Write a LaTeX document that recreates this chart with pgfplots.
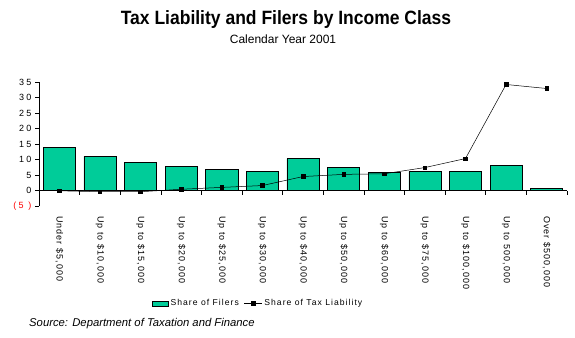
\documentclass[border=0pt]{standalone}
\usepackage{pgfplots}
\pgfplotsset{compat=1.18}
\usepackage{fontspec}
\setmainfont{Liberation Sans}
\newfontfamily\lsfont[LetterSpace=12]{Liberation Sans}
\newfontfamily\ysfont[LetterSpace=25]{Liberation Sans}
\definecolor{filers}{RGB}{0,204,153}
\pgfplotsset{
  barlegend/.style={legend image code/.code={\draw[##1] (0pt,-2.5pt) rectangle (16pt,2.5pt);}},
  linelegend/.style={legend image code/.code={\draw[##1] (0pt,0pt) -- (18pt,0pt); \path[##1] plot coordinates {(9pt,0pt)};}},
}
\pgfplotstableread{
x filers tax
0 13.9 -0.1
1 11.0 -0.4
2 9.0 -0.4
3 7.7 0.4
4 6.8 1.0
5 6.1 1.6
6 10.3 4.5
7 7.4 5.2
8 5.8 5.4
9 6.2 7.4
10 6.2 10.3
11 8.1 34.2
12 0.75 32.9
}\datatable
\begin{document}
\begin{tikzpicture}
\path[use as bounding box] (0,0) rectangle (575pt,337pt);
\node[anchor=base] at (286pt,312pt) {\fontsize{17.5}{20}\selectfont\bfseries\scalebox{1}[1.1]{Tax Liability and Filers by Income Class}};
\node[anchor=base] at (283pt,293.5pt) {\fontsize{12}{14}\selectfont Calendar Year 2001};
\node[anchor=base west, inner sep=0pt] at (29pt,10.3pt) {\fontsize{11.3}{13}\selectfont\itshape Source: Department of Taxation and Finance};
\begin{axis}[
  at={(39pt,131pt)}, anchor=south west,
  scale only axis, width=528pt, height=124pt,
  xmin=-0.5, xmax=12.5, ymin=-5, ymax=35,
  axis y line=left, axis x line=middle,
  axis line style={-, black, line width=0.6pt},
  tick align=outside,
  major tick length=4pt, minor tick length=4pt,
  tick style={black, line width=0.6pt},
  ytick={-5,0,5,10,15,20,25,30,35},
  yticklabels={\textcolor{red}{(5 )},0,5,10,15,20,25,30,35},
  yticklabel style={font=\ysfont\fontsize{9}{10}\selectfont},
  xtick={0,...,12},
  minor xtick={-0.5,0.5,...,12.5},
  major x tick style={draw=none},
  xticklabels={Under \$5{,}000,Up to \$10{,}000,Up to \$15{,}000,Up to \$20{,}000,Up to \$25{,}000,Up to \$30{,}000,Up to \$40{,}000,Up to \$50{,}000,Up to \$60{,}000,Up to \$75{,}000,Up to \$100{,}000,Up to 500{,}000,Over \$500{,}000},
  xticklabel style={font=\lsfont\fontsize{9}{10}\selectfont, rotate=-90, anchor=west},
  xticklabel shift=18pt,
  clip=false,
  legend style={draw=none, at={(0.415,-0.785)}, anchor=center, legend columns=2,
    font=\lsfont\fontsize{8.6}{10}\selectfont, /tikz/every even column/.append style={column sep=3pt}},
]
\addplot[ybar, bar width=0.79, bar shift=0pt, draw=black, line width=0.6pt, fill=filers, barlegend]
  table[x=x, y=filers] {\datatable};
\addlegendentry{Share of Filers}
\addplot[black, line width=0.5pt, mark=square*, mark size=1.8pt, linelegend]
  table[x=x, y=tax] {\datatable};
\addlegendentry{Share of Tax Liability}
\end{axis}
\end{tikzpicture}
\end{document}
